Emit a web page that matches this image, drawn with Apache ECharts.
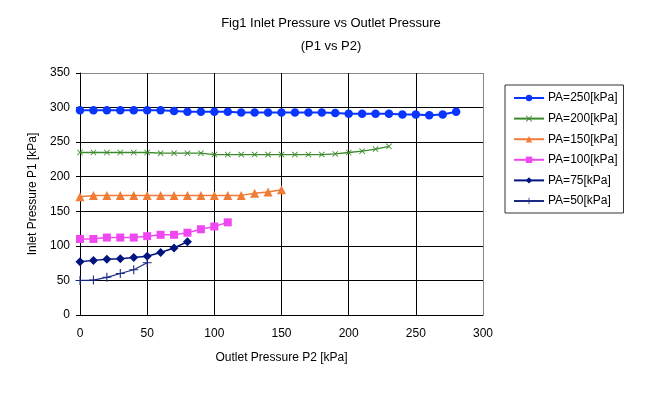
<!DOCTYPE html>
<html>
<head>
<meta charset="utf-8">
<script src="https://cdn.jsdelivr.net/npm/echarts@6/dist/echarts.min.js"></script>
<style>
  body { margin: 0; background: #fff; }
  #chart { width: 654px; height: 397px; }
</style>
</head>
<body>
<div id="chart"></div>
<script>
// outlet pressure P2 [kPa] for each curve
var x250 = [0,10,20,30,40,50,60,70,80,90,100,110,120,130,140,150,160,170,180,190,200,210,220,230,240,250,260,270,280];
var x200 = [0,10,20,30,40,50,60,70,80,90,100,110,120,130,140,150,160,170,180,190,200,210,220,230];
var x150 = [0,10,20,30,40,50,60,70,80,90,100,110,120,130,140,150];
var x100 = [0,10,20,30,40,50,60,70,80,90,100,110];
var x75 = [0,10,20,30,40,50,60,70,80];
var x50 = [0,10,20,30,40,50];

// inlet pressure P1 [kPa]
var p250 = [296,296,296,296,296,296,296,295,294,294,294,294,293,293,293,293,293,293,293,292,291,291,291,291,290,290,289,290,294];
var p200 = [235,235,235,235,235,235,234,234,234,234,232,232,232,232,232,232,232,232,232,233,235,237,240,244];
var p150 = [171,173,173,173,173,173,173,173,173,173,173,173,173,176,178,181];
var p100 = [110,110,112,112,112,114,116,116,119,124,128,134];
var p75 = [77,79,80.5,81.5,83,85,90.5,97,106];
var p50 = [50,50.5,54.5,60,65.5,75.5];

var names = ['PA=250[kPa]','PA=200[kPa]','PA=150[kPa]','PA=100[kPa]','PA=75[kPa]','PA=50[kPa]'];

function pairs(xs, ys) {
  var out = [];
  for (var i = 0; i < xs.length; i++) out.push([xs[i], ys[i]]);
  return out;
}

var crossPath = 'path://M0,1L1,0L5,4L9,0L10,1L6,5L10,9L9,10L5,6L1,10L0,9L4,5Z';
var plusPath = 'path://M4.4,0H5.6V4.4H10V5.6H5.6V10H4.4V5.6H0V4.4H4.4Z';

function line(name, data, color, symbol, size, width) {
  return {
    name: name,
    type: 'line',
    data: data,
    symbol: symbol,
    symbolSize: size,
    showAllSymbol: true,
    lineStyle: { color: color, width: width },
    itemStyle: { color: color },
    emphasis: { disabled: true },
    animation: false
  };
}

var myChart = echarts.init(document.getElementById('chart'));
var font = 'Liberation Sans, Arial, sans-serif';
var option = {
  backgroundColor: '#fff',
  textStyle: { fontFamily: font },
  title: {
    text: 'Fig1 Inlet Pressure vs Outlet Pressure\n(P1 vs P2)',
    left: 326,
    textAlign: 'center',
    top: 7,
    textStyle: { fontSize: 13, fontWeight: 'normal', color: '#000', lineHeight: 23, fontFamily: font }
  },
  legend: {
    orient: 'vertical',
    left: 505,
    top: 85,
    width: 117,
    padding: [7, 6, 6, 8],
    itemGap: 8.6,
    itemWidth: 30,
    itemHeight: 8,
    borderColor: '#333',
    borderWidth: 1,
    borderRadius: 0,
    textStyle: { fontSize: 12, color: '#000', fontFamily: font, padding: [0, 0, 0, -1] },
    data: names
  },
  grid: { left: 80, top: 73, right: 171, bottom: 82 },
  xAxis: {
    type: 'value',
    min: 0, max: 300, interval: 50,
    name: 'Outlet Pressure P2 [kPa]',
    nameLocation: 'middle',
    nameGap: 37,
    nameTextStyle: { fontSize: 12, color: '#000', fontFamily: font },
    axisLine: { show: true, lineStyle: { color: '#000', width: 1 } },
    axisTick: { show: false },
    axisLabel: { fontSize: 12, color: '#000', margin: 13, fontFamily: font },
    splitLine: { show: true, lineStyle: { color: ['#000','#000','#000','#000','#000','#000','#888'], width: 1 } }
  },
  yAxis: {
    type: 'value',
    min: 0, max: 350, interval: 50,
    name: 'Inlet Pressure P1 [kPa]',
    nameLocation: 'middle',
    nameGap: 34,
    nameTextStyle: { fontSize: 12, color: '#000', fontFamily: font },
    axisLine: { show: true, lineStyle: { color: '#000', width: 1 } },
    axisTick: { show: true, length: 4, inside: false, lineStyle: { color: '#000' } },
    axisLabel: { fontSize: 12, color: '#000', margin: 10, fontFamily: font },
    splitLine: { show: true, lineStyle: { color: ['#000','#000','#000','#000','#000','#000','#000','#888'], width: 1 } }
  },
  series: [
    line(names[0], pairs(x250, p250), '#0a35ff', 'circle', 8.5, 2),
    line(names[1], pairs(x200, p200), '#3b8a2c', crossPath, 6, 1.3),
    line(names[2], pairs(x150, p150), '#f07c38', 'triangle', 9, 1.5),
    line(names[3], pairs(x100, p100), '#f048f0', 'rect', 8, 1.5),
    line(names[4], pairs(x75, p75), '#001480', 'diamond', 9, 1.5),
    line(names[5], pairs(x50, p50), '#1c2a85', plusPath, 9, 1.2)
  ]
};
myChart.setOption(option);
</script>
</body>
</html>
